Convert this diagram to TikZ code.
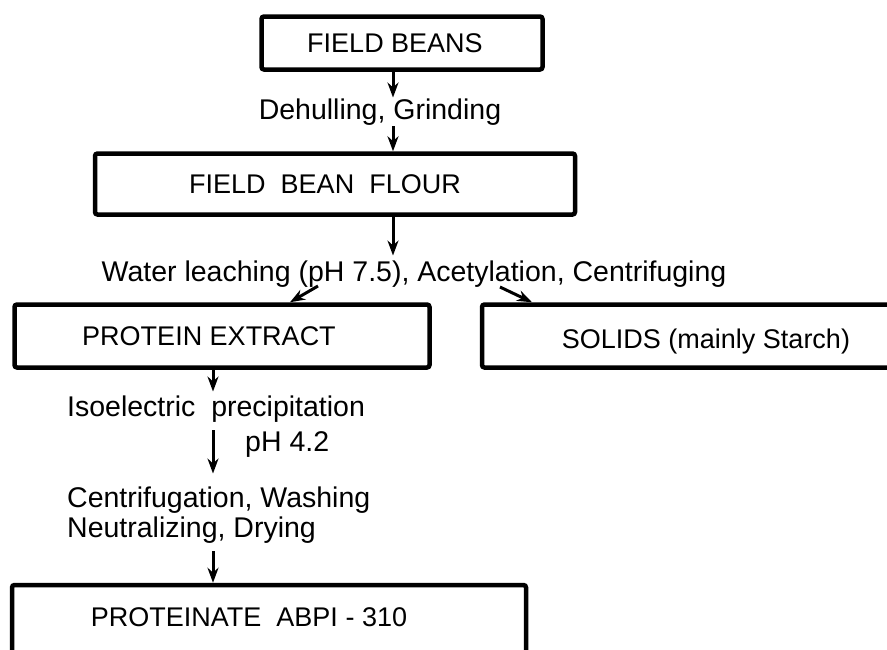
\documentclass[tikz,border=0pt]{standalone}
\usepackage{fontspec}
\setmainfont{Liberation Sans}
\usetikzlibrary{arrows.meta}
\usetikzlibrary{calc}

\begin{document}
\begin{tikzpicture}[x=1pt, y=-1pt,
    stage/.style={draw, line width=4.5pt, rounded corners=2.5pt, inner sep=0pt,
        font=\fontsize{27}{30}\selectfont},
    stagetext/.style={inner sep=0pt, font=\fontsize{27}{30}\selectfont},
    process/.style={inner sep=1pt, align=left, font=\fontsize{28.5}{30}\selectfont},
    flow/.style={line width=3pt, -{Stealth[length=15pt, width=11pt]}}]

                    % 図の範囲
                    \useasboundingbox (0,0) rectangle (887,649);

                    % 工程の箱 (文字は少し左寄せ)
                    \node[stage, minimum width=281, minimum height=53] (beans) at (402,43) {FIELD BEANS\hspace*{14pt}};
                    \node[stage, minimum width=480, minimum height=61] (flour) at (335,184) {FIELD \ BEAN \ FLOUR\hspace*{20pt}};
                    \node[stage, minimum width=415, minimum height=63] (extract) at (222,336) {PROTEIN EXTRACT\hspace*{26pt}};
                    \node[stage, minimum width=448, minimum height=63] (solids) at (706,336) {\rule{0pt}{30pt}SOLIDS (mainly Starch)};
                    \node[stage, minimum width=514, minimum height=110] (final) at (269,640) {};
                    \node[stagetext] (finaltag) at (249,617) {PROTEINATE \ ABPI - 310};

                    % 処理の説明
                    \node[process] (dehull) at (380,112) {Dehulling, Grinding};
                    \node[process] (leach) at (414,274) {Water leaching (pH 7.5), Acetylation, Centrifuging};
                    \node[process, anchor=west] (iso) at (66,409) {Isoelectric \ precipitation};
                    \node[process, anchor=west] (ph) at (244,444) {pH 4.2};
                    \node[process, anchor=west] (wash) at (66,515) {Centrifugation, Washing\\Neutralizing, Drying};

                    % 矢印の通る位置
                    \coordinate (spine) at (393,0);
                    \coordinate (spineB) at (213,0);
                    \coordinate (forkL) at (318,286);
                    \coordinate (forkR) at (500,287);
                    \coordinate (tipL) at (290,0);
                    \coordinate (tipR) at (532,0);

                    % 矢印
                    \draw[flow] (beans.south -| spine) -- (dehull.north -| spine);
                    \draw[flow] (dehull.south -| spine) -- (flour.north -| spine);
                    \draw[flow, shorten >=4pt] (flour.south -| spine) -- (leach.north -| spine);
                    \draw[flow] (forkL) -- (extract.north -| tipL);
                    \draw[flow] (forkR) -- (solids.north -| tipR);
                    \draw[flow, shorten >=3pt] (extract.south -| spineB) -- (iso.north -| spineB);
                    \draw[flow, shorten <=7pt, shorten >=12pt] (iso.south -| spineB) -- (wash.north -| spineB);
                    \draw[flow, shorten <=7pt] (wash.south -| spineB) -- (final.north -| spineB);

                \end{tikzpicture}
\end{document}
